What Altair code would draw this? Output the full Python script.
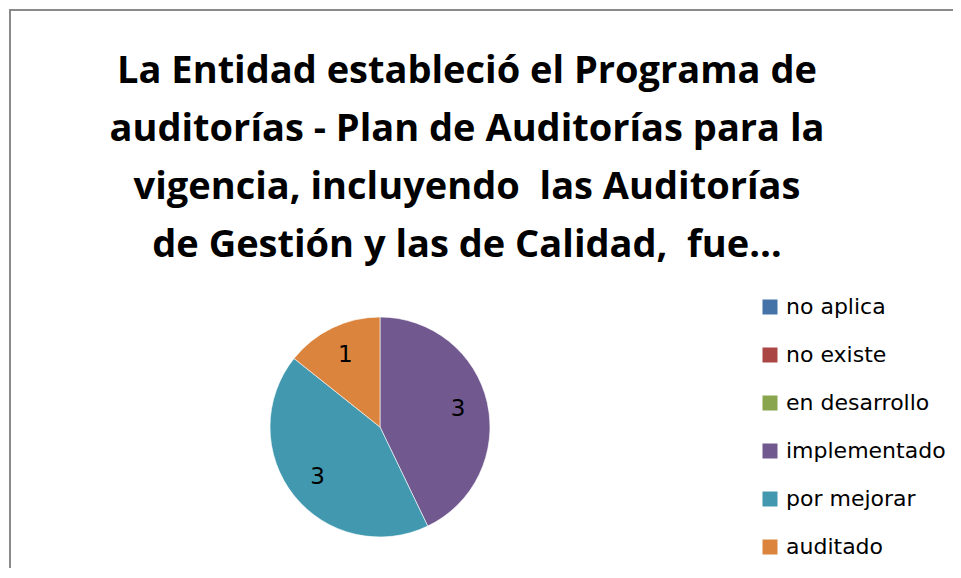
import altair as alt
import pandas as pd

categories = ["no aplica", "no existe", "en desarrollo", "implementado", "por mejorar", "auditado"]
values = [0, 0, 0, 3, 3, 1]
colors = ["#4572A7", "#AA4643", "#89A54E", "#71588F", "#4198AF", "#DB843D"]
title_lines = [
    "La Entidad estableció el Programa de",
    "auditorías - Plan de Auditorías para la",
    "vigencia, incluyendo \u00a0las Auditorías",
    "de Gestión y las de Calidad, \u00a0fue…",
]

df = pd.DataFrame({"categoria": categories, "valor": values, "orden": list(range(len(categories)))})

W, H = 945, 560
CX, CY = 372, 419

color = alt.Color(
    "categoria:N",
    scale=alt.Scale(domain=categories, range=colors),
    sort=categories,
    legend=alt.Legend(
        title=None, orient="none", legendX=751, legendY=288,
        symbolType="square", symbolSize=225, symbolStrokeWidth=0, symbolOpacity=1,
        labelFont="DejaVu Sans", labelFontSize=22, labelColor="#000000",
        rowPadding=26, labelOffset=5, padding=0,
    ),
)

base = alt.Chart(df).transform_filter("datum.valor > 0")

pie = base.mark_arc(outerRadius=110, stroke="#ffffff", strokeWidth=0.6).encode(
    theta=alt.Theta("valor:Q", stack=True),
    color=color,
    order=alt.Order("orden:Q"),
    x=alt.value(CX), y=alt.value(CY),
)

labels = base.mark_text(radius=80, fontSize=23, font="DejaVu Sans", color="#000000").encode(
    theta=alt.Theta("valor:Q", stack=True),
    order=alt.Order("orden:Q"),
    text="valor:Q",
    x=alt.value(CX), y=alt.value(CY),
)

one = pd.DataFrame({"k": [0]})
title = alt.Chart(one).mark_text(
    text=title_lines, font="Open Sans", fontWeight="bold", fontSize=38,
    lineHeight=58, align="center", baseline="alphabetic", color="#000000",
).encode(x=alt.value(459), y=alt.value(75))

frame_left = alt.Chart(one).mark_rule(color="#8a8a8a", strokeWidth=2).encode(
    x=alt.value(2), y=alt.value(1), y2=alt.value(H))
frame_top = alt.Chart(one).mark_rule(color="#8a8a8a", strokeWidth=2).encode(
    y=alt.value(2), x=alt.value(1), x2=alt.value(W))

chart = alt.layer(frame_left, frame_top, title, pie, labels).properties(
    width=W, height=H, autosize=alt.AutoSizeParams(type="none"), padding=0,
).configure_view(stroke=None)

chart.save("out.html", embed_options={"renderer": "svg", "actions": False})
